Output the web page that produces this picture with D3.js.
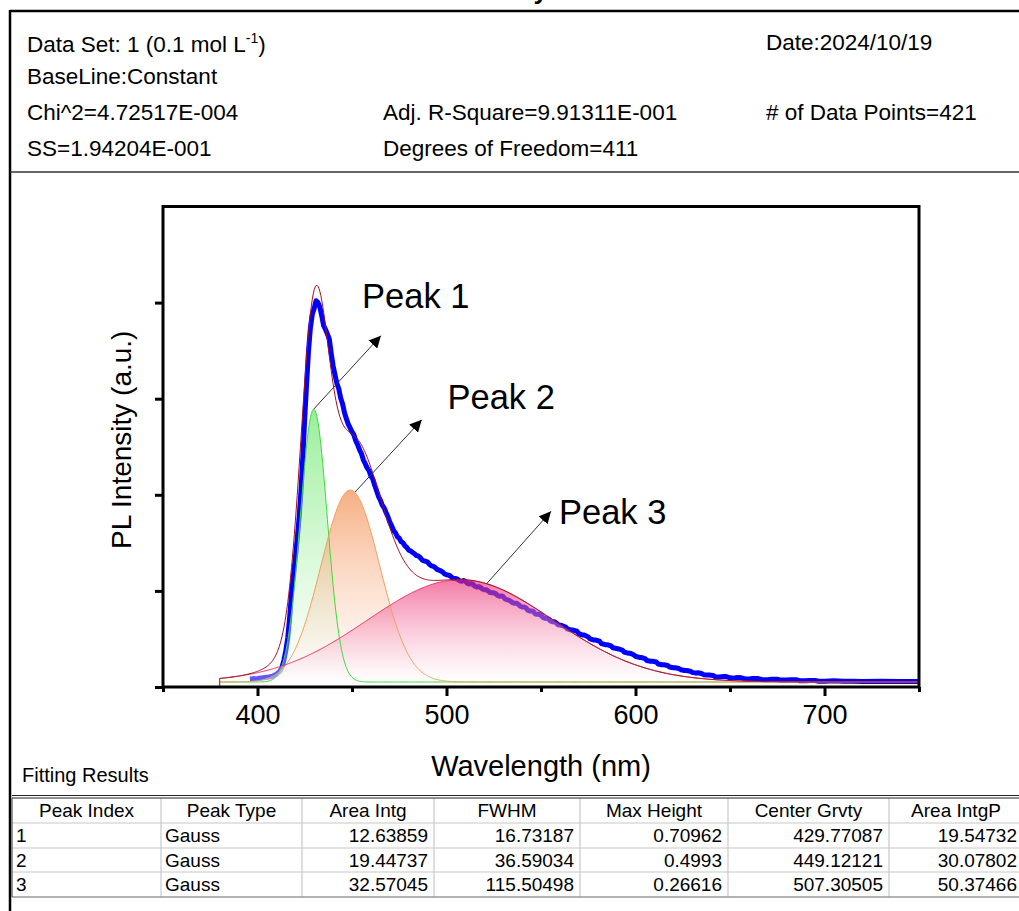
<!DOCTYPE html>
<html>
<head>
<meta charset="utf-8">
<script src="https://cdn.jsdelivr.net/npm/d3@7"></script>
<style>
  html, body { margin: 0; padding: 0; background: #fff; }
  svg { display: block; font-family: "Liberation Sans", Arial, sans-serif; }
</style>
</head>
<body>
<svg id="chart" width="1019" height="911"></svg>
<script>
// ---------------- data ----------------
const chartTitle = "Intensity";
const headerLines = {
  dataSet: "Data Set: 1 (0.1 mol L",
  date: "Date:2024/10/19",
  baseline: "BaseLine:Constant",
  chi2: "Chi^2=4.72517E-004",
  adjR2: "Adj. R-Square=9.91311E-001",
  nPoints: "# of Data Points=421",
  ss: "SS=1.94204E-001",
  dof: "Degrees of Freedom=411"
};
const xLabel = "Wavelength (nm)";
const yLabel = "PL Intensity (a.u.)";
const xMajorTicks = [400, 500, 600, 700];
const xMinorTicks = [350, 450, 550, 650, 750];
const yMajorTicks = [0, 0.25, 0.5, 0.75, 1.0];
const xDomain = [350, 750];
const yDomain = [0, 1.25];
const fitRange = [380, 750];
const baselineY0 = 0.013;

// measured PL spectrum [wavelength nm, intensity]
const plSpectrum = [
[396,0.021],[400,0.022],[403,0.024],[406,0.026],[408,0.028],[410,0.033],
[412,0.042],[413,0.052],[414,0.07],[415,0.095],[416,0.128],[417,0.18],[418,0.245],[419,0.29],[420,0.335],[421,0.385],
[422,0.44],[423,0.51],[424,0.6],[425,0.7],[426,0.79],[427,0.875],[428,0.935],[429,0.97],[430,0.985],[431,1.005],
[432,1.0],[433,0.988],[434,0.965],[435,0.94],[436,0.93],[437,0.918],[438,0.905],[439,0.868],[440,0.836],[441,0.812],
[442,0.79],[443,0.776],[444,0.752],[445,0.737],[446,0.714],[447,0.698],[448,0.684],[449,0.674],[450,0.664],[451,0.656],
[452,0.64],[453,0.63],[454,0.617],[455,0.607],[456,0.591],[457,0.581],[458,0.57],[459,0.563],[460,0.549],[461,0.541],
[462,0.525],[463,0.511],[464,0.496],[465,0.486],[466,0.473],[467,0.466],[468,0.454],[469,0.443],[470,0.429],[471,0.419],
[472,0.407],[473,0.401],[474,0.391],[475,0.387],[476,0.378],[477,0.375],[478,0.367],[479,0.363],[480,0.356],[481,0.354],[482,0.350],
[483,0.347],[484,0.342],[485,0.341],[486,0.337],[487,0.331],[488,0.328],[489,0.327],[490,0.325],[491,0.319],[492,0.315],[493,0.314],[494,0.311],
[495,0.306],[496,0.304],[497,0.302],[498,0.299],[499,0.294],[500,0.292],[501,0.291],[502,0.289],[503,0.284],
[504,0.282],[505,0.282],[506,0.28],[507,0.276],[508,0.275],[509,0.277],[510,0.275],[511,0.27],[512,0.268],[513,0.269],[514,0.267],[515,0.262],[516,0.26],[517,0.261],[518,0.259],[519,0.255],[520,0.253],[521,0.253],[522,0.25],
[523,0.246],[524,0.245],[525,0.245],[526,0.243],[527,0.238],[528,0.236],[529,0.237],[530,0.235],[531,0.229],[532,0.227],[533,0.226],[534,0.223],[535,0.219],[536,0.218],[537,0.218],[538,0.215],[539,0.21],[540,0.208],[541,0.208],[542,0.206],
[543,0.2],[544,0.198],[545,0.198],[546,0.196],[547,0.19],[548,0.189],[549,0.189],[550,0.187],[551,0.181],[552,0.179],[553,0.179],[554,0.177],[555,0.172],[556,0.17],[557,0.17],[558,0.167],[559,0.162],[560,0.161],[561,0.16],[563,0.156],
[564,0.151],[566,0.148],[567,0.148],[569,0.145],[570,0.139],[572,0.135],[573,0.135],[575,0.130],[576,0.125],[578,0.122],[579,0.122],[581,0.119],[582,0.113],[584,0.11],[585,0.11],[587,0.107],[588,0.102],[590,0.1],[591,0.099],[593,0.096],
[594,0.091],[596,0.088],[597,0.088],[599,0.084],[600,0.08],[602,0.077],[603,0.077],[605,0.074],[606,0.069],[608,0.067],[609,0.067],[611,0.065],[612,0.06],[614,0.058],[615,0.058],[617,0.056],[618,0.052],[620,0.05],[621,0.05],[623,0.048],
[624,0.045],[626,0.043],[627,0.043],[629,0.041],[630,0.038],[632,0.036],[633,0.037],[635,0.035],[636,0.032],[638,0.031],[639,0.031],[641,0.03],[642,0.027],[644,0.026],[646,0.027],[648,0.027],[650,0.024],[652,0.023],[654,0.025],[656,0.024],
[658,0.021],[660,0.021],[662,0.022],[665,0.022],[667,0.019],[670,0.019],[672,0.02],[675,0.02],[677,0.018],[680,0.018],[682,0.019],[685,0.019],[687,0.016],[690,0.016],[692,0.017],[695,0.017],[697,0.015],[700,0.015],[705,0.016],
[710,0.015],[715,0.015],[720,0.014],[730,0.015],[740,0.014],[750,0.014]
];

// fitting results table
const tableHeaders = ["Peak Index", "Peak Type", "Area Intg", "FWHM", "Max Height", "Center Grvty", "Area IntgP"];
const peakIndex = ["1", "2", "3"];
const peakType = ["Gauss", "Gauss", "Gauss"];
const areaIntg = ["12.63859", "19.44737", "32.57045"];
const fwhm = ["16.73187", "36.59034", "115.50498"];
const maxHeight = ["0.70962", "0.4993", "0.26616"];
const centerGrvty = ["429.77087", "449.12121", "507.30505"];
const areaIntgP = ["19.54732", "30.07802", "50.37466"];

// annotation labels [text, label anchor (nm, a.u.), arrow head (nm, a.u.), arrow tail (nm, a.u.)]
const peakLabels = ["Peak 1", "Peak 2", "Peak 3"];
const labelPos = [[455.3, 0.985], [500.5, 0.722], [559.5, 0.423]];
const arrowHead = [[465.3, 0.914], [486.9, 0.695], [555.3, 0.457]];
const arrowTail = [[429.77, 0.723], [451.6, 0.507], [521.3, 0.269]];

// ---------------- drawing ----------------
const svg = d3.select("#chart");
const W = 1019, H = 911;
const plot = { left: 163, right: 919, top: 206.5, bottom: 687 };
const x = d3.scaleLinear().domain(xDomain).range([plot.left, plot.right]);
const y = d3.scaleLinear().domain(yDomain).range([plot.bottom, plot.top]);

svg.append("rect").attr("width", W).attr("height", H).attr("fill", "#fff");

// title (mostly cut off above the frame, as in the original)
svg.append("text").attr("x", 548).attr("y", -1).attr("text-anchor", "end")
  .attr("font-size", 26).attr("font-weight", "bold").text(chartTitle);

// outer frame
svg.append("line").attr("x1", 10).attr("x2", W).attr("y1", 11).attr("y2", 11).attr("stroke", "#000").attr("stroke-width", 2.5);
svg.append("line").attr("x1", 10).attr("x2", 10).attr("y1", 10).attr("y2", H).attr("stroke", "#000").attr("stroke-width", 2.5);
svg.append("line").attr("x1", 10).attr("x2", W).attr("y1", 172).attr("y2", 172).attr("stroke", "#333").attr("stroke-width", 1.5);

// header texts
const hdr = svg.append("g").attr("font-size", 22.5).attr("fill", "#000");
const ds = hdr.append("text").attr("x", 27).attr("y", 52).text(headerLines.dataSet);
ds.append("tspan").attr("font-size", 14).attr("dy", -9).text("-1");
ds.append("tspan").attr("dy", 9).text(")");
hdr.append("text").attr("x", 766).attr("y", 50).text(headerLines.date);
hdr.append("text").attr("x", 27).attr("y", 84).text(headerLines.baseline);
hdr.append("text").attr("x", 27).attr("y", 120).text(headerLines.chi2);
hdr.append("text").attr("x", 383).attr("y", 120).text(headerLines.adjR2);
hdr.append("text").attr("x", 766).attr("y", 120).text(headerLines.nPoints);
hdr.append("text").attr("x", 27).attr("y", 156).text(headerLines.ss);
hdr.append("text").attr("x", 383).attr("y", 156).text(headerLines.dof);

// clip
svg.append("defs").append("clipPath").attr("id", "clip")
  .append("rect").attr("x", plot.left).attr("y", plot.top)
  .attr("width", plot.right - plot.left).attr("height", plot.bottom - plot.top);

// gaussian components from table parameters
const peaks = peakIndex.map((d, i) => ({
  xc: +centerGrvty[i], w: +fwhm[i], A: +maxHeight[i]
}));
const gauss = (p, t) => p.A * Math.exp(-4 * Math.LN2 * Math.pow((t - p.xc) / p.w, 2));
const grid = d3.range(fitRange[0], fitRange[1] + 0.001, 0.5);

const defs = svg.select("defs");
const fillColors = [
  { top: "rgb(70,225,70)", op: 0.55, line: "#3fd93f" },
  { top: "rgb(242,125,55)", op: 0.62, line: "#f0a060" },
  { top: "rgb(236,40,110)", op: 0.62, line: "#e8306e" }
];
fillColors.forEach((c, i) => {
  const g = defs.append("linearGradient").attr("id", "grad" + i)
    .attr("x1", 0).attr("y1", 0).attr("x2", 0).attr("y2", 1);
  g.append("stop").attr("offset", "0%").attr("stop-color", c.top).attr("stop-opacity", c.op);
  g.append("stop").attr("offset", "100%").attr("stop-color", "#ffffff").attr("stop-opacity", 0.35);
});

const pg = svg.append("g").attr("clip-path", "url(#clip)");

// data line (drawn beneath the translucent fills)
pg.append("path").datum(plSpectrum)
  .attr("d", d3.line().x(d => x(d[0])).y(d => y(d[1])))
  .attr("fill", "none").attr("stroke", "#0000ff").attr("stroke-width", 5)
  .attr("stroke-linejoin", "round");

// fills
peaks.forEach((p, i) => {
  pg.append("path").datum(grid)
    .attr("d", d3.area().x(t => x(t)).y0(y(baselineY0)).y1(t => y(baselineY0 + gauss(p, t))))
    .attr("fill", `url(#grad${i})`).attr("stroke", "none");
});
peaks.forEach((p, i) => {
  pg.append("path").datum(grid)
    .attr("d", d3.line().x(t => x(t)).y(t => y(baselineY0 + gauss(p, t))))
    .attr("fill", "none").attr("stroke", fillColors[i].line).attr("stroke-width", 1);
});
// cumulative fit
pg.append("path").datum(grid)
  .attr("d", d3.line().x(t => x(t)).y(t => y(baselineY0 + d3.sum(peaks, p => gauss(p, t)))))
  .attr("fill", "none").attr("stroke", "#a0101e").attr("stroke-width", 1);
pg.append("line").attr("x1", x(fitRange[0])).attr("x2", x(fitRange[0]))
  .attr("y1", y(0)).attr("y2", y(baselineY0 + d3.sum(peaks, p => gauss(p, fitRange[0]))))
  .attr("stroke", "#a0101e").attr("stroke-width", 1);

// axes
const axB = svg.append("g").attr("transform", `translate(0,${plot.bottom})`)
  .call(d3.axisBottom(x).tickValues(xMajorTicks).tickSize(9).tickPadding(9).tickFormat(d3.format("d")));
axB.select(".domain").remove();
axB.selectAll(".tick line").attr("stroke", "#000").attr("stroke-width", 3);
axB.selectAll(".tick text").attr("font-size", 27).attr("font-family", "Liberation Sans, Arial, sans-serif").attr("fill", "#000");
const axBm = svg.append("g").attr("transform", `translate(0,${plot.bottom})`)
  .call(d3.axisBottom(x).tickValues(xMinorTicks).tickSize(5).tickFormat(""));
axBm.select(".domain").remove();
axBm.selectAll(".tick line").attr("stroke", "#000").attr("stroke-width", 3);
const axL = svg.append("g").attr("transform", `translate(${plot.left},0)`)
  .call(d3.axisLeft(y).tickValues(yMajorTicks).tickSize(8).tickFormat(""));
axL.select(".domain").remove();
axL.selectAll(".tick line").attr("stroke", "#000").attr("stroke-width", 3);

// frame
svg.append("rect").attr("x", plot.left).attr("y", plot.top)
  .attr("width", plot.right - plot.left).attr("height", plot.bottom - plot.top)
  .attr("fill", "none").attr("stroke", "#000").attr("stroke-width", 3);

// axis labels
svg.append("text").attr("x", 541).attr("y", 776)
  .attr("text-anchor", "middle").attr("font-size", 29).text(xLabel);
svg.append("text").attr("transform", `translate(131,${(plot.top + plot.bottom) / 2 - 7}) rotate(-90)`)
  .attr("text-anchor", "middle").attr("font-size", 28).text(yLabel);

// arrows + labels
defs.append("marker").attr("id", "ah").attr("viewBox", "0 0 10 10")
  .attr("refX", 10).attr("refY", 5).attr("markerWidth", 12).attr("markerHeight", 12)
  .attr("markerUnits", "userSpaceOnUse").attr("orient", "auto")
  .append("path").attr("d", "M0,0 L10,5 L0,10 z").attr("fill", "#000");
peakLabels.forEach((lab, i) => {
  svg.append("line")
    .attr("x1", x(arrowTail[i][0])).attr("y1", y(arrowTail[i][1]))
    .attr("x2", x(arrowHead[i][0])).attr("y2", y(arrowHead[i][1]))
    .attr("stroke", "#333").attr("stroke-width", 1).attr("marker-end", "url(#ah)");
  svg.append("text").attr("x", x(labelPos[i][0])).attr("y", y(labelPos[i][1]))
    .attr("font-size", 34.5).text(lab);
});

// fitting results table
svg.append("text").attr("x", 22).attr("y", 782).attr("font-size", 20).text("Fitting Results");
const colX = [12, 161, 302, 434, 580, 728, 889, 1023];
const rowY = [798, 823, 848, 872, 897];
const tg = svg.append("g");
rowY.slice(1, -1).forEach(yy => tg.append("line").attr("x1", colX[0]).attr("x2", W).attr("y1", yy).attr("y2", yy).attr("stroke", "#c8c8c8").attr("stroke-width", 1.2));
colX.slice(1, -1).forEach(xx => tg.append("line").attr("x1", xx).attr("x2", xx).attr("y1", rowY[0]).attr("y2", rowY[4]).attr("stroke", "#c8c8c8").attr("stroke-width", 1.2));
tg.append("line").attr("x1", colX[0]).attr("x2", W).attr("y1", rowY[0] - 2.5).attr("y2", rowY[0] - 2.5).attr("stroke", "#222").attr("stroke-width", 1.2);
tg.append("line").attr("x1", colX[0]).attr("x2", W).attr("y1", rowY[0]).attr("y2", rowY[0]).attr("stroke", "#222").attr("stroke-width", 1.2);
tg.append("line").attr("x1", colX[0]).attr("x2", W).attr("y1", rowY[4]).attr("y2", rowY[4]).attr("stroke", "#999").attr("stroke-width", 1.5);
tg.append("line").attr("x1", colX[0]).attr("x2", colX[0]).attr("y1", rowY[0]).attr("y2", rowY[4]).attr("stroke", "#555").attr("stroke-width", 1.2);

const tf = 19;
tableHeaders.forEach((h, j) => {
  tg.append("text").attr("x", (colX[j] + colX[j + 1]) / 2).attr("y", rowY[0] + 19)
    .attr("text-anchor", "middle").attr("font-size", tf).text(h);
});
const cols = [peakIndex, peakType, areaIntg, fwhm, maxHeight, centerGrvty, areaIntgP];
cols.forEach((col, j) => {
  col.forEach((v, r) => {
    const left = j < 2;
    tg.append("text")
      .attr("x", left ? colX[j] + 4 : colX[j + 1] - 6)
      .attr("y", rowY[r + 1] + 19)
      .attr("text-anchor", left ? "start" : "end")
      .attr("font-size", tf).text(v);
  });
});
</script>
</body>
</html>
